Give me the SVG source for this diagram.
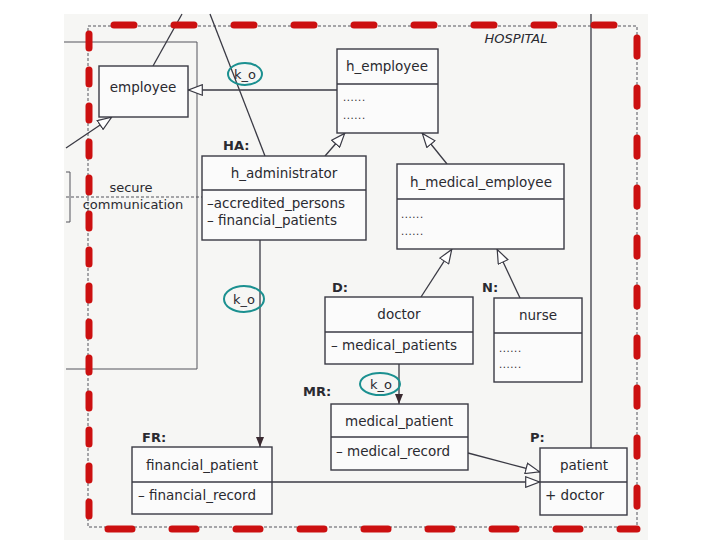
<svg xmlns="http://www.w3.org/2000/svg" width="720" height="540" viewBox="0 0 720 540">
<style>
  text{font-family:"DejaVu Sans","Liberation Sans",Arial,sans-serif;fill:#2a2a30;}
  .t{font-size:13.5px;text-anchor:middle;}
  .a{font-size:13.5px;}
  .lab{font-size:13px;font-weight:bold;}
  .box{fill:#fbfbfb;stroke:#3a3a44;stroke-width:1.4;}
  .ln{stroke:#3a3a44;stroke-width:1.3;fill:none;}
  .thin{stroke:#55555c;stroke-width:1;fill:none;}
  .ko{fill:none;stroke:#1b9090;stroke-width:2;}
  .red{stroke:#cc1010;stroke-width:7;fill:none;stroke-linecap:round;}
  .dots{font-size:10px;letter-spacing:0.6px;}
</style>
<defs>
  <marker id="inh" viewBox="0 0 15 12" refX="15" refY="6" markerWidth="15" markerHeight="12" markerUnits="userSpaceOnUse" orient="auto">
    <path d="M0.7,0.7 L14.5,6 L0.7,11.3 Z" fill="#ffffff" stroke="#3a3a44" stroke-width="1.2"/>
  </marker>
  <marker id="arr" viewBox="0 0 10 8" refX="10" refY="4" markerWidth="10" markerHeight="8" markerUnits="userSpaceOnUse" orient="auto">
    <path d="M0,0 L10,4 L0,8 Z" fill="#3a2a30"/>
  </marker>
</defs>
<rect x="0" y="0" width="720" height="540" fill="#ffffff"/>
<rect x="64" y="14" width="584" height="526" fill="#f6f6f4"/>

<!-- package frames -->
<g id="frames">
  <path class="thin" stroke-dasharray="3 2" d="M88,26 L637,26 L637,527 L88,527 Z"/>
  <path class="thin" d="M64,42 L197,42 L197,369 L66,369"/>
  <path class="thin" d="M66,172 L70,172 L70,222 L66,222"/>
  <path class="thin" stroke-dasharray="3 2" d="M66,197 L202,197"/>
  <text x="516" y="43" style="font-size:13px;font-style:italic;text-anchor:middle;">HOSPITAL</text>
  <text x="131" y="192" class="t" style="font-size:13px">secure</text>
  <text x="133" y="209" class="t" style="font-size:13px">communication</text>
</g>

<!-- connectors -->
<g id="connectors">
  <line class="ln" x1="153" y1="66" x2="182" y2="14"/>
  <line class="ln" x1="210" y1="14" x2="265" y2="156"/>
  <line class="ln" x1="591" y1="14" x2="591" y2="448"/>
  <line class="ln" x1="66" y1="148" x2="112" y2="117" marker-end="url(#inh)"/>
  <line class="ln" x1="337" y1="90" x2="188" y2="90" marker-end="url(#inh)"/>
  <line class="ln" x1="325" y1="156" x2="345" y2="133" marker-end="url(#inh)"/>
  <line class="ln" x1="447" y1="164" x2="422" y2="133" marker-end="url(#inh)"/>
  <line class="ln" x1="421" y1="297" x2="452" y2="249" marker-end="url(#inh)"/>
  <line class="ln" x1="520" y1="298" x2="497" y2="249" marker-end="url(#inh)"/>
  <line class="ln" x1="260" y1="240" x2="260" y2="447" marker-end="url(#arr)"/>
  <line class="ln" x1="399" y1="364" x2="399" y2="404" marker-end="url(#arr)"/>
  <line class="ln" x1="468" y1="453" x2="540" y2="472" marker-end="url(#inh)"/>
  <line class="ln" x1="272" y1="482" x2="540" y2="482" marker-end="url(#inh)"/>
  <ellipse class="ko" cx="245" cy="74" rx="17" ry="11"/>
  <text x="245" y="79" class="t" style="font-size:13px">k_o</text>
  <ellipse class="ko" cx="244" cy="299" rx="20" ry="13"/>
  <text x="244" y="304" class="t" style="font-size:13px">k_o</text>
  <ellipse class="ko" cx="380" cy="384" rx="20" ry="11"/>
  <text x="381" y="389" class="t" style="font-size:13px">k_o</text>
</g>

<g id="employee">
  <rect class="box" x="99" y="66" width="89" height="51"/>
  <text x="143" y="92" class="t">employee</text>
</g>

<g id="h_employee">
  <rect class="box" x="337" y="49" width="101" height="84"/>
  <line class="ln" x1="337" y1="84" x2="438" y2="84"/>
  <text x="387" y="71" class="t">h_employee</text>
  <text x="343" y="101" class="dots">......</text>
  <text x="343" y="119" class="dots">......</text>
</g>

<g id="h_administrator">
  <text x="223" y="150" class="lab">HA:</text>
  <rect class="box" x="202" y="156" width="164" height="84"/>
  <line class="ln" x1="202" y1="190" x2="366" y2="190"/>
  <text x="284" y="178" class="t">h_administrator</text>
  <text x="207" y="208" class="a">–accredited_persons</text>
  <text x="207" y="225" class="a">– financial_patients</text>
</g>

<g id="h_medical_employee">
  <rect class="box" x="397" y="164" width="167" height="85"/>
  <line class="ln" x1="397" y1="199" x2="564" y2="199"/>
  <text x="481" y="187" class="t">h_medical_employee</text>
  <text x="401" y="218" class="dots">......</text>
  <text x="401" y="235" class="dots">......</text>
</g>

<g id="doctor">
  <text x="332" y="292" class="lab">D:</text>
  <rect class="box" x="325" y="297" width="148" height="67"/>
  <line class="ln" x1="325" y1="332" x2="473" y2="332"/>
  <text x="399" y="319" class="t">doctor</text>
  <text x="331" y="350" class="a">– medical_patients</text>
</g>

<g id="nurse">
  <text x="482" y="292" class="lab">N:</text>
  <rect class="box" x="494" y="298" width="88" height="84"/>
  <line class="ln" x1="494" y1="333" x2="582" y2="333"/>
  <text x="538" y="320" class="t">nurse</text>
  <text x="499" y="352" class="dots">......</text>
  <text x="499" y="368" class="dots">......</text>
</g>

<g id="medical_patient">
  <text x="303" y="396" class="lab">MR:</text>
  <rect class="box" x="331" y="404" width="137" height="66"/>
  <line class="ln" x1="331" y1="437" x2="468" y2="437"/>
  <text x="399" y="426" class="t">medical_patient</text>
  <text x="336" y="456" class="a">– medical_record</text>
</g>

<g id="financial_patient">
  <text x="142" y="442" class="lab">FR:</text>
  <rect class="box" x="132" y="447" width="140" height="67"/>
  <line class="ln" x1="132" y1="482" x2="272" y2="482"/>
  <text x="202" y="470" class="t">financial_patient</text>
  <text x="138" y="500" class="a">– financial_record</text>
</g>

<g id="patient">
  <text x="530" y="442" class="lab">P:</text>
  <rect class="box" x="540" y="448" width="87" height="67"/>
  <line class="ln" x1="540" y1="482" x2="627" y2="482"/>
  <text x="584" y="470" class="t">patient</text>
  <text x="545" y="500" class="a">+ doctor</text>
</g>

<!-- red dashed overlay -->
<g id="red_border">
  <path class="red" stroke-dasharray="20 40" stroke-dashoffset="-26" d="M88,25 L637,25"/>
  <path class="red" stroke-dasharray="18 32" d="M637,38 L637,515"/>
  <path class="red" stroke-dasharray="24 40" stroke-dashoffset="-8" d="M100,529 L637,529"/>
  <path class="red" stroke-dasharray="14 22" stroke-dashoffset="-4" d="M89,30 L89,520"/>
</g>
</svg>
